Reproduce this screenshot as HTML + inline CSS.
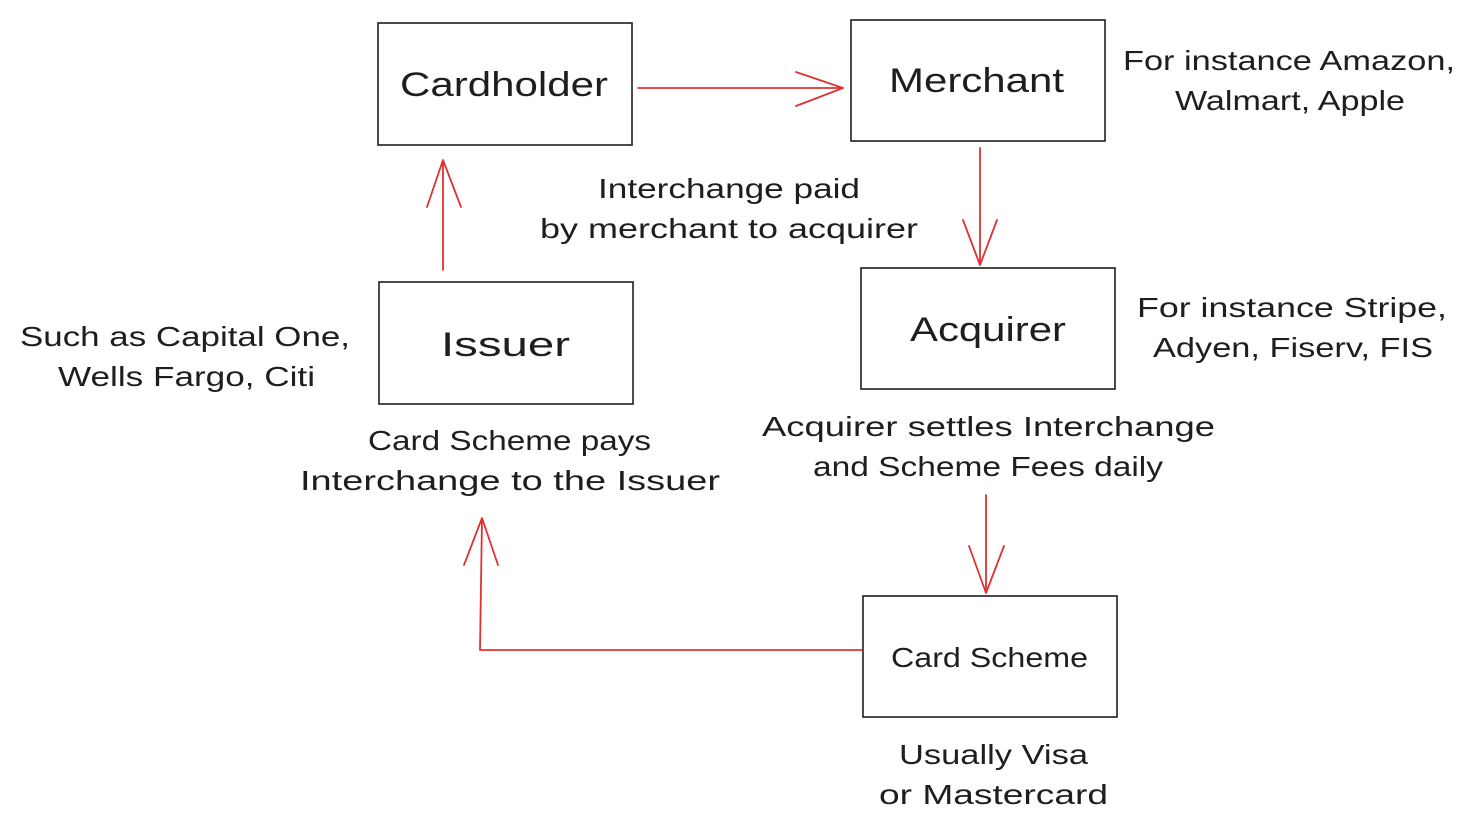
<!DOCTYPE html>
<html><head><meta charset="utf-8"><style>
html,body{margin:0;padding:0;background:#fff;}
svg{display:block}
text{font-family:"Liberation Sans",sans-serif;fill:#1e1e1e;}
.b{font-size:34px;}
.a{font-size:28px;}
</style></head><body>
<svg width="1475" height="835" viewBox="0 0 1475 835" xmlns="http://www.w3.org/2000/svg">
<g fill="none" stroke="#1e1e1e" stroke-width="1.6">
<rect x="378" y="23" width="254" height="122"/>
<rect x="851" y="20" width="254" height="121"/>
<rect x="379" y="282" width="254" height="122"/>
<rect x="861" y="268" width="254" height="121"/>
<rect x="863" y="596" width="254" height="121"/>
</g>
<g fill="none" stroke="#e03131" stroke-width="1.8" stroke-linecap="round" stroke-linejoin="round">
<path d="M638 88 L843 88 M796 72 L843 88 L796 106"/>
<path d="M980 148 L980 265 M963 220 L980 265 L997 220"/>
<path d="M443 270 L443 160 M427 207 L443 160 L461 207"/>
<path d="M986 495 L986 593 M969 546 L986 593 L1004 546"/>
<path d="M862 650 L480 650 L482 518 M464 565 L482 518 L498 565"/>
</g>
<g lengthAdjust="spacingAndGlyphs">
<text class="b" x="400" y="96" textLength="208" lengthAdjust="spacingAndGlyphs">Cardholder</text>
<text class="b" x="889" y="92" textLength="175" lengthAdjust="spacingAndGlyphs">Merchant</text>
<text class="b" x="441" y="356" textLength="129" lengthAdjust="spacingAndGlyphs">Issuer</text>
<text class="b" x="910" y="341" textLength="156" lengthAdjust="spacingAndGlyphs">Acquirer</text>
<text class="a" x="891" y="667" textLength="197" lengthAdjust="spacingAndGlyphs">Card Scheme</text>
<text class="a" x="598" y="198" textLength="262" lengthAdjust="spacingAndGlyphs">Interchange paid</text>
<text class="a" x="540" y="238" textLength="378" lengthAdjust="spacingAndGlyphs">by merchant to acquirer</text>
<text class="a" x="368" y="450" textLength="283" lengthAdjust="spacingAndGlyphs">Card Scheme pays</text>
<text class="a" x="300" y="490" textLength="420" lengthAdjust="spacingAndGlyphs">Interchange to the Issuer</text>
<text class="a" x="762" y="436" textLength="453" lengthAdjust="spacingAndGlyphs">Acquirer settles Interchange</text>
<text class="a" x="813" y="476" textLength="350" lengthAdjust="spacingAndGlyphs">and Scheme Fees daily</text>
<text class="a" x="899" y="764" textLength="189" lengthAdjust="spacingAndGlyphs">Usually Visa</text>
<text class="a" x="879" y="804" textLength="229" lengthAdjust="spacingAndGlyphs">or Mastercard</text>
<text class="a" x="1123" y="70" textLength="332" lengthAdjust="spacingAndGlyphs">For instance Amazon,</text>
<text class="a" x="1175" y="110" textLength="230" lengthAdjust="spacingAndGlyphs">Walmart, Apple</text>
<text class="a" x="1137" y="317" textLength="310" lengthAdjust="spacingAndGlyphs">For instance Stripe,</text>
<text class="a" x="1153" y="357" textLength="280" lengthAdjust="spacingAndGlyphs">Adyen, Fiserv, FIS</text>
<text class="a" x="20" y="346" textLength="330" lengthAdjust="spacingAndGlyphs">Such as Capital One,</text>
<text class="a" x="58" y="386" textLength="257" lengthAdjust="spacingAndGlyphs">Wells Fargo, Citi</text>
</g>
</svg>
</body></html>
